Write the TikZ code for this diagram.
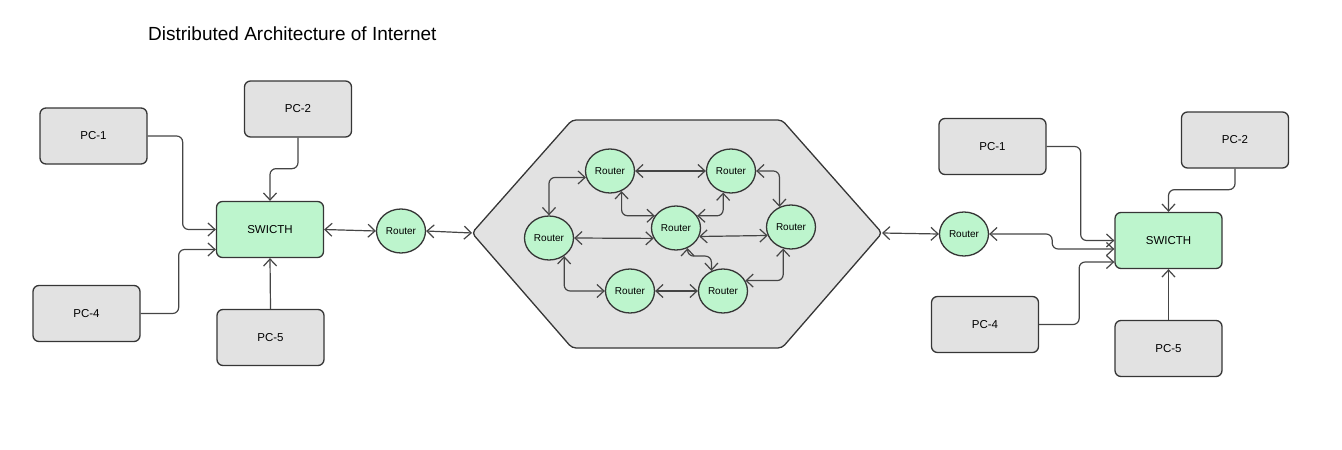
\documentclass[tikz,border=0pt]{standalone}
\usepackage{fontspec}
\setmainfont{Liberation Sans}
\usetikzlibrary{arrows.meta,shapes.geometric}

\definecolor{edgeline}{HTML}{363636}
\definecolor{wire}{HTML}{454545}
\definecolor{pcfill}{HTML}{E2E2E2}
\definecolor{netfill}{HTML}{BDF5CD}
\definecolor{cloudfill}{HTML}{E2E2E2}

\tikzset{
  pcbox/.style={rectangle, rounded corners=6pt, draw=edgeline, line width=1.3pt,
    fill=pcfill, minimum width=107pt, minimum height=56pt, inner sep=0pt,
    font=\fontsize{11.5}{13}\selectfont},
  switchbox/.style={pcbox, fill=netfill},
  router/.style={ellipse, draw=edgeline, line width=1.3pt, fill=netfill,
    minimum width=49pt, minimum height=44pt, inner sep=0pt,
    font=\fontsize{10}{12}\selectfont},
  link/.style={draw=wire, line width=1.2pt, rounded corners=6pt,
    -{Straight Barb[length=7pt,width=13pt]}},
  biway/.style={draw=wire, line width=1.2pt, rounded corners=6pt,
    {Straight Barb[length=7pt,width=13pt]}-{Straight Barb[length=7pt,width=13pt]}},
}

\begin{document}
\begin{tikzpicture}[x=1pt,y=-1pt]
  \useasboundingbox (0,0) rectangle (1342,450);

  % heading
  \node[anchor=base west, inner sep=0pt, font=\fontsize{19}{22}\selectfont]
    (title) at (148,40.5) {Distributed Architecture of Internet};

  % ---------- backbone cloud ----------
  \coordinate (hexL) at (472,233);
  \coordinate (hexR) at (882,233);
  \draw[draw=edgeline, line width=1.3pt, fill=cloudfill, rounded corners=4pt]
    (hexL) -- (572,120) -- (782,120) -- (hexR) -- (782,348) -- (572,348) -- cycle;

  \node[router] (h1) at (610,171) {Router};
  \node[router] (h2) at (731,171) {Router};
  \node[router] (h3) at (549,238) {Router};
  \node[router] (h4) at (676,228) {Router};
  \node[router] (h5) at (791,227) {Router};
  \node[router] (h6) at (630,291) {Router};
  \node[router] (h7) at (723,291) {Router};

  \draw[biway] (h1.east) -- (h2.west);
  \draw[biway] (h1.195) -| (h3.north);
  \draw[biway] (h1.-60) |- (h4.150);
  \draw[biway] (h2.-110) |- (h4.30);
  \draw[biway] (h2.east) -| (h5.120);
  \draw[biway] (h3.east) -- (h4.205);
  \draw[biway] (h4.-20) -- (h5.200);
  \draw[biway] (h4.-60) -- ++(0,8) -| (h7.120);
  \draw[biway] (h3.-50) |- (h6.west);
  \draw[biway] (h6.east) -- (h7.west);
  \draw[biway] (h7.25) -| (h5.-110);

  % ---------- left LAN ----------
  \node[pcbox] (pc1l) at (93.5,136) {PC-1};
  \node[pcbox] (pc2l) at (298,109) {PC-2};
  \node[pcbox] (pc4l) at (86.5,313.5) {PC-4};
  \node[pcbox] (pc5l) at (270.5,337.5) {PC-5};
  \node[switchbox] (swl) at (270,229.5) {SWICTH};
  \node[router] (rtl) at (401,231) {Router};

  \draw[link] (pc1l.east) -- ++(35,0) |- (swl.west);
  \draw[link] (pc4l.east) -- ++(38,0) |- ([yshift=-20pt]swl.west);
  \draw[link] (pc2l.south) -- ++(0,31) -| (swl.north);
  \draw[link] (pc5l.north) -- (swl.south);
  \draw[biway] (swl.east) -- (rtl.west);
  \draw[biway] (rtl.east) -- (hexL);

  % ---------- right LAN ----------
  \node[pcbox] (pc1r) at (992.5,146.5) {PC-1};
  \node[pcbox] (pc2r) at (1235,140) {PC-2};
  \node[pcbox] (pc4r) at (985,324.5) {PC-4};
  \node[pcbox] (pc5r) at (1168.5,348.5) {PC-5};
  \node[switchbox] (swr) at (1168.5,240.5) {SWICTH};
  \node[router] (rtr) at (964,234) {Router};

  \draw[biway] (hexR) -- (rtr.west);
  \draw[biway] (rtr.east) -- ++(63,0) |- ([yshift=-8.5pt]swr.west);
  \draw[link] (pc1r.east) -- ++(34,0) |- (swr.west);
  \draw[link] (pc4r.east) -- ++(40,0) |- ([yshift=-21.5pt]swr.west);
  \draw[link] (pc2r.south) -- ++(0,21) -| (swr.north);
  \draw[link] (pc5r.north) -- (swr.south);
\end{tikzpicture}
\end{document}
